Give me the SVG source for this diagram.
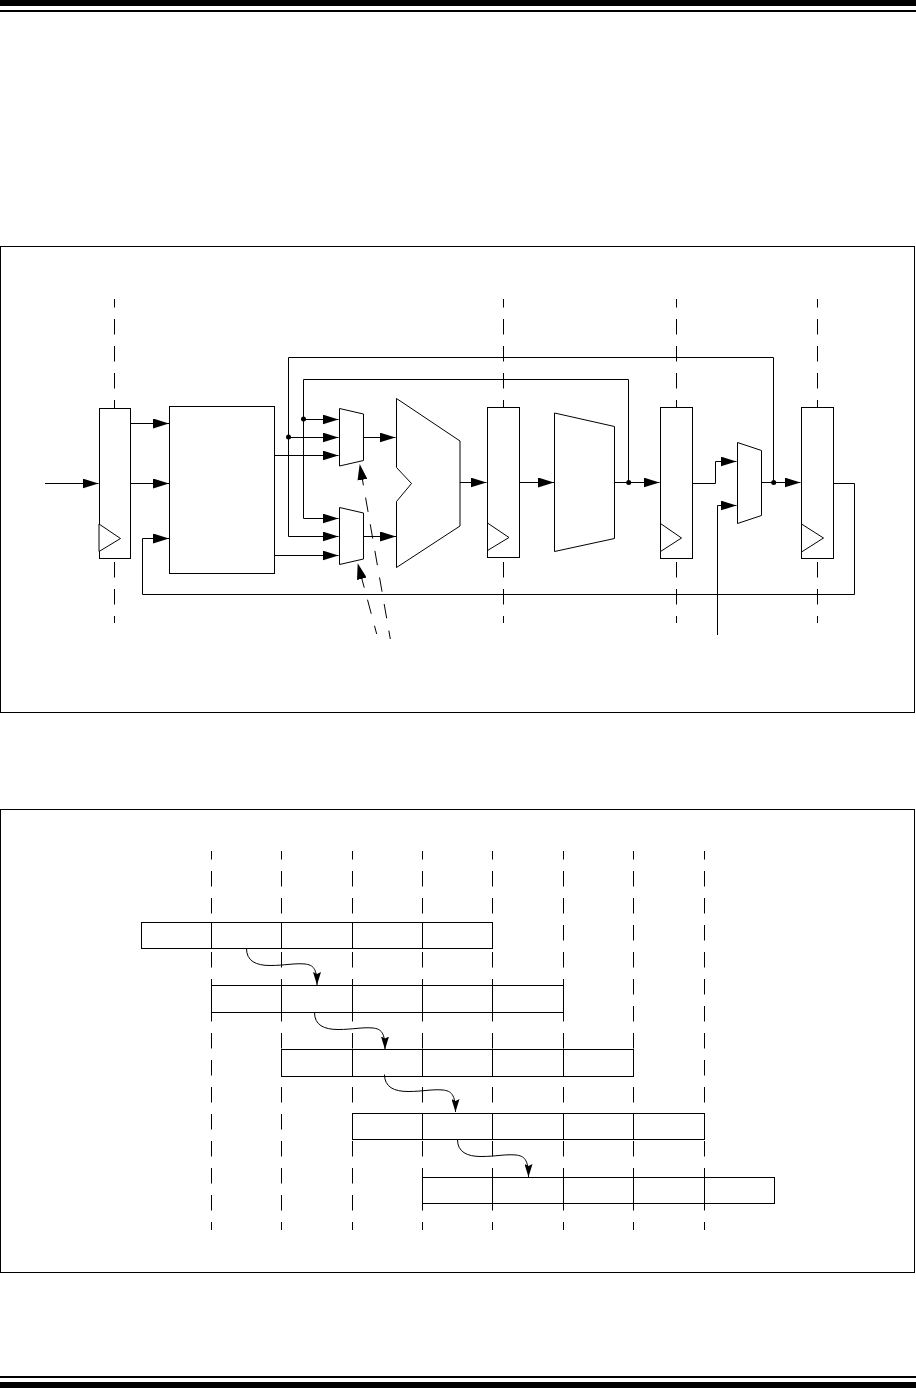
<svg xmlns="http://www.w3.org/2000/svg" width="916" height="1388" viewBox="0 0 916 1388">
<style>
.s{fill:none;stroke:#000;stroke-width:1}
.b{fill:#fff;stroke:#000;stroke-width:1}
.a{marker-end:url(#ah)}
.c{marker-end:url(#ac)}
.dv{fill:none;stroke:#000;stroke-width:1;stroke-dasharray:15.5 11.5;stroke-dashoffset:7}
.dg{fill:none;stroke:#000;stroke-width:1;stroke-dasharray:14.5 12.5;stroke-dashoffset:6}
.dot{fill:#000}
</style>
<defs>
<marker id="ah" markerUnits="userSpaceOnUse" viewBox="0 0 16 10" markerWidth="16" markerHeight="10" refX="16" refY="5" orient="auto"><path d="M0 0L16 5L0 10Z" fill="#000"/></marker>
<marker id="ac" markerUnits="userSpaceOnUse" viewBox="0 0 13 8" markerWidth="13" markerHeight="8" refX="13" refY="4" orient="auto"><path d="M0 0L13 4L0 8L2 4Z" fill="#000"/></marker>
</defs>
<rect width="916" height="1388" fill="#fff"/>
<g id="page-rules">
<rect x="0" y="0" width="916" height="6" fill="#000"/>
<rect x="0" y="10" width="916" height="2" fill="#000"/>
<rect x="0" y="1376" width="916" height="2" fill="#000"/>
<rect x="0" y="1382" width="916" height="6" fill="#000"/>
</g>
<rect id="frame-1" class="s" x="0.5" y="246.5" width="914" height="466"/>
<rect id="frame-2" class="s" x="0.5" y="809.5" width="914" height="463"/>

<g id="pipeline-stage-lines">
<path class="dv" d="M114.5 299V623M503.5 299V623M676.5 299V623M817.5 299V623"/>
</g>

<g id="connectors">
<path class="s a" d="M45 483.5H98.5"/>
<path class="s a" d="M130.5 423.5H169"/>
<path class="s a" d="M130.5 483.5H169"/>
<path class="s a" d="M854.5 483.5V594.5H142.5V538.5H169"/>
<path class="s" d="M833.5 483.5H854.5"/>
<path class="s a" d="M288.5 437.5H338.5"/>
<path class="s a" d="M303.5 419.5H338.5"/>
<path class="s a" d="M274.5 455.5H338.5"/>
<path class="s a" d="M274.5 555.5H338.5"/>
<path class="s" d="M288.5 437.5V357.5H773.5V482.5"/>
<path class="s a" d="M288.5 437.5V536.5H338.5"/>
<path class="s" d="M303.5 419.5V379.5H628.5V482.5"/>
<path class="s a" d="M303.5 419.5V518.5H338.5"/>
<path class="s a" d="M363 437.5H395.5"/>
<path class="s a" d="M363 536.5H396"/>
<path class="s a" d="M460 482.5H486.5"/>
<path class="s a" d="M519.5 482.5H554"/>
<path class="s a" d="M614.5 482.5H659.5"/>
<path class="s a" d="M692.5 483.5H715.5V461.5H736.5"/>
<path class="s a" d="M717.5 635V505.5H736.5"/>
<path class="s a" d="M761.5 482.5H800.5"/>
<path class="dg a" d="M390.3 639L359.7 464"/>
<path class="dg a" d="M376.7 634L357.7 563.3"/>
<circle class="dot" cx="288.5" cy="437" r="2.5"/>
<circle class="dot" cx="303.5" cy="419" r="2.5"/>
<circle class="dot" cx="628.7" cy="482.5" r="2.5"/>
<circle class="dot" cx="773.7" cy="482.5" r="2.5"/>
</g>

<g id="reg-1"><rect class="b" x="99.5" y="408.5" width="31" height="150"/><path class="b" d="M99 524L120.5 538.5L99 551.5Z"/></g>
<g id="block"><rect class="b" x="169.5" y="406.5" width="105" height="167"/></g>
<g id="mux-a"><path class="b" d="M339.5 408.5L363.5 414V460.5L339.5 466Z"/></g>
<g id="mux-b"><path class="b" d="M339.5 507.5L363.5 513V559L339.5 564.5Z"/></g>
<g id="alu"><path class="b" d="M396.5 398.5L460 441V526L396.5 567.5V501.5L411.5 483.5L396.5 467.5Z"/></g>
<g id="reg-2"><rect class="b" x="487.5" y="407.5" width="32" height="150"/><path class="b" d="M487.5 523L509 537.5L487.5 550.5Z"/></g>
<g id="shifter"><path class="b" d="M554.5 413L614.5 426.5V538.5L554.5 551.5Z"/></g>
<g id="reg-3"><rect class="b" x="660.5" y="407.5" width="32" height="151"/><path class="b" d="M660.5 523.5L681.5 538L660.5 551.5Z"/></g>
<g id="mux-c"><path class="b" d="M737.5 442.5L761.5 450.5V515.5L737.5 523.5Z"/></g>
<g id="reg-4"><rect class="b" x="801.5" y="407.5" width="32" height="151"/><path class="b" d="M801.5 524L823.5 538L801.5 552Z"/></g>

<g id="timing-lines">
<path class="dv" d="M211.5 851V1230M281.5 851V1230M352.5 851V1230M422.5 851V1230M492.5 851V1230M563.5 851V1230M633.5 851V1230M704.5 851V1230"/>
</g>
<g id="row-1"><rect class="s" x="141.5" y="922.5" width="351" height="26"/><path class="s" d="M211.5 922.5V948.5M281.5 922.5V948.5M352.5 922.5V948.5M422.5 922.5V948.5"/></g>
<g id="row-2"><rect class="s" x="211.5" y="985.5" width="352" height="27"/><path class="s" d="M281.5 985.5V1012.5M352.5 985.5V1012.5M422.5 985.5V1012.5M492.5 985.5V1012.5"/></g>
<g id="row-3"><rect class="s" x="281.5" y="1049.5" width="352" height="27"/><path class="s" d="M352.5 1049.5V1076.5M422.5 1049.5V1076.5M492.5 1049.5V1076.5M563.5 1049.5V1076.5"/></g>
<g id="row-4"><rect class="s" x="352.5" y="1113.5" width="352" height="26"/><path class="s" d="M422.5 1113.5V1139.5M492.5 1113.5V1139.5M563.5 1113.5V1139.5M633.5 1113.5V1139.5"/></g>
<g id="row-5"><rect class="s" x="422.5" y="1177.5" width="352" height="26"/><path class="s" d="M492.5 1177.5V1203.5M563.5 1177.5V1203.5M633.5 1177.5V1203.5M704.5 1177.5V1203.5"/></g>

<g id="forwarding-arrows">
<path class="s c" d="M246.5 948.5C246.5 961 256 965.5 270 965.5C285 965.5 294 963 305 964C313 965 317 968 317 985"/>
<path class="s c" d="M314.5 1012.5C314.5 1025 324 1029.5 338 1029.5C353 1029.5 362 1027 373 1028C381 1029 385 1032 385 1049.5"/>
<path class="s c" d="M384.5 1074.5C384.5 1087 394 1091.5 408 1091.5C423 1091.5 432 1089 443 1090C451 1091 455.5 1094 455.5 1112"/>
<path class="s c" d="M457.5 1139.5C457.5 1152 467 1156.5 481 1156.5C496 1156.5 505 1154 516 1155C524 1156 528.5 1159 528.5 1177"/>
</g>
</svg>
